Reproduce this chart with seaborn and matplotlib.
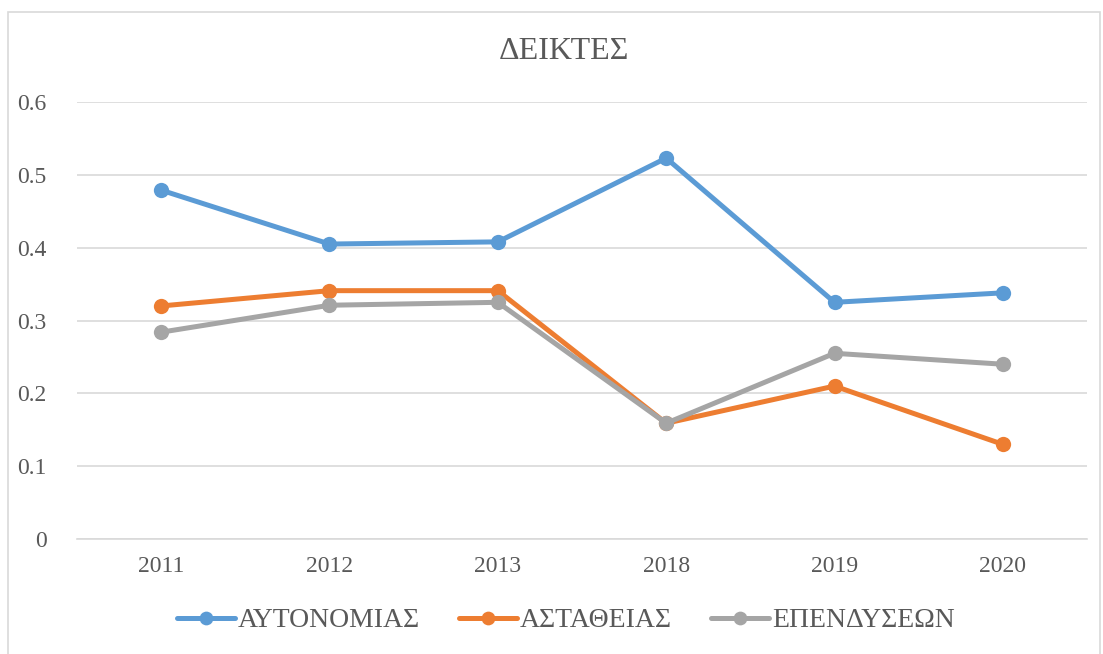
import pandas as pd
import matplotlib.pyplot as plt
import seaborn as sns
from matplotlib.patches import Rectangle

years = ['2011', '2012', '2013', '2018', '2019', '2020']
aytonomias = [0.479, 0.405, 0.408, 0.523, 0.325, 0.338]
astatheias = [0.320, 0.341, 0.341, 0.159, 0.210, 0.130]
ependyseon = [0.284, 0.321, 0.325, 0.159, 0.255, 0.240]
series_names = ['ΑΥΤΟΝΟΜΙΑΣ', 'ΑΣΤΑΘΕΙΑΣ', 'ΕΠΕΝΔΥΣΕΩΝ']
colors = ['#5B9BD5', '#ED7D31', '#A5A5A5']

df = pd.DataFrame({'year': years * 3,
                   'value': aytonomias + astatheias + ependyseon,
                   'series': [s for s in series_names for _ in years]})

sns.set_style('white')
plt.rcParams['font.family'] = ['Liberation Serif', 'DejaVu Serif']
text_col = '#595959'

fig = plt.figure(figsize=(11.03, 6.54), dpi=100)
ax = fig.add_axes([0.0698, 0.1758, 0.9157, 0.6682])

sns.lineplot(data=df, x='year', y='value', hue='series', palette=colors,
             marker='o', markersize=11, markeredgewidth=0, linewidth=3.6,
             sort=False, ax=ax)

ax.set_xlim(-0.5, 5.5)
ax.set_ylim(0, 0.6)
ax.set_yticks([0, 0.1, 0.2, 0.3, 0.4, 0.5, 0.6])
ax.set_yticklabels(['0', '0.1', '0.2', '0.3', '0.4', '0.5', '0.6'])
ax.yaxis.grid(True, color='#D9D9D9', linewidth=1.2)
ax.set_axisbelow(True)
for s in ['top', 'right', 'left']:
    ax.spines[s].set_visible(False)
ax.spines['bottom'].set_color('#D9D9D9')
ax.spines['bottom'].set_linewidth(1.2)
ax.tick_params(axis='both', length=0, labelsize=17, colors=text_col)
ax.tick_params(axis='y', pad=22)
ax.tick_params(axis='x', pad=12)
ax.set_xlabel('')
ax.set_ylabel('')

fig.text(0.511, 0.922, 'ΔΕΙΚΤΕΣ', ha='center', va='center', fontsize=23, color=text_col)

handles, labels = ax.get_legend_handles_labels()
ax.legend(handles, labels, loc='center', bbox_to_anchor=(0.513, 0.051),
          bbox_transform=fig.transFigure, ncol=3, frameon=False,
          fontsize=20, labelcolor=text_col, handlelength=2.1,
          handletextpad=0.1, columnspacing=1.4, markerscale=0.9)

fig.patches.append(Rectangle((8 / 1103, -0.01), 1092 / 1103, 1 - 12 / 654 + 0.01,
                             transform=fig.transFigure, fill=False,
                             edgecolor='#D9D9D9', linewidth=1.2))

fig.savefig('out.png', dpi=100)
